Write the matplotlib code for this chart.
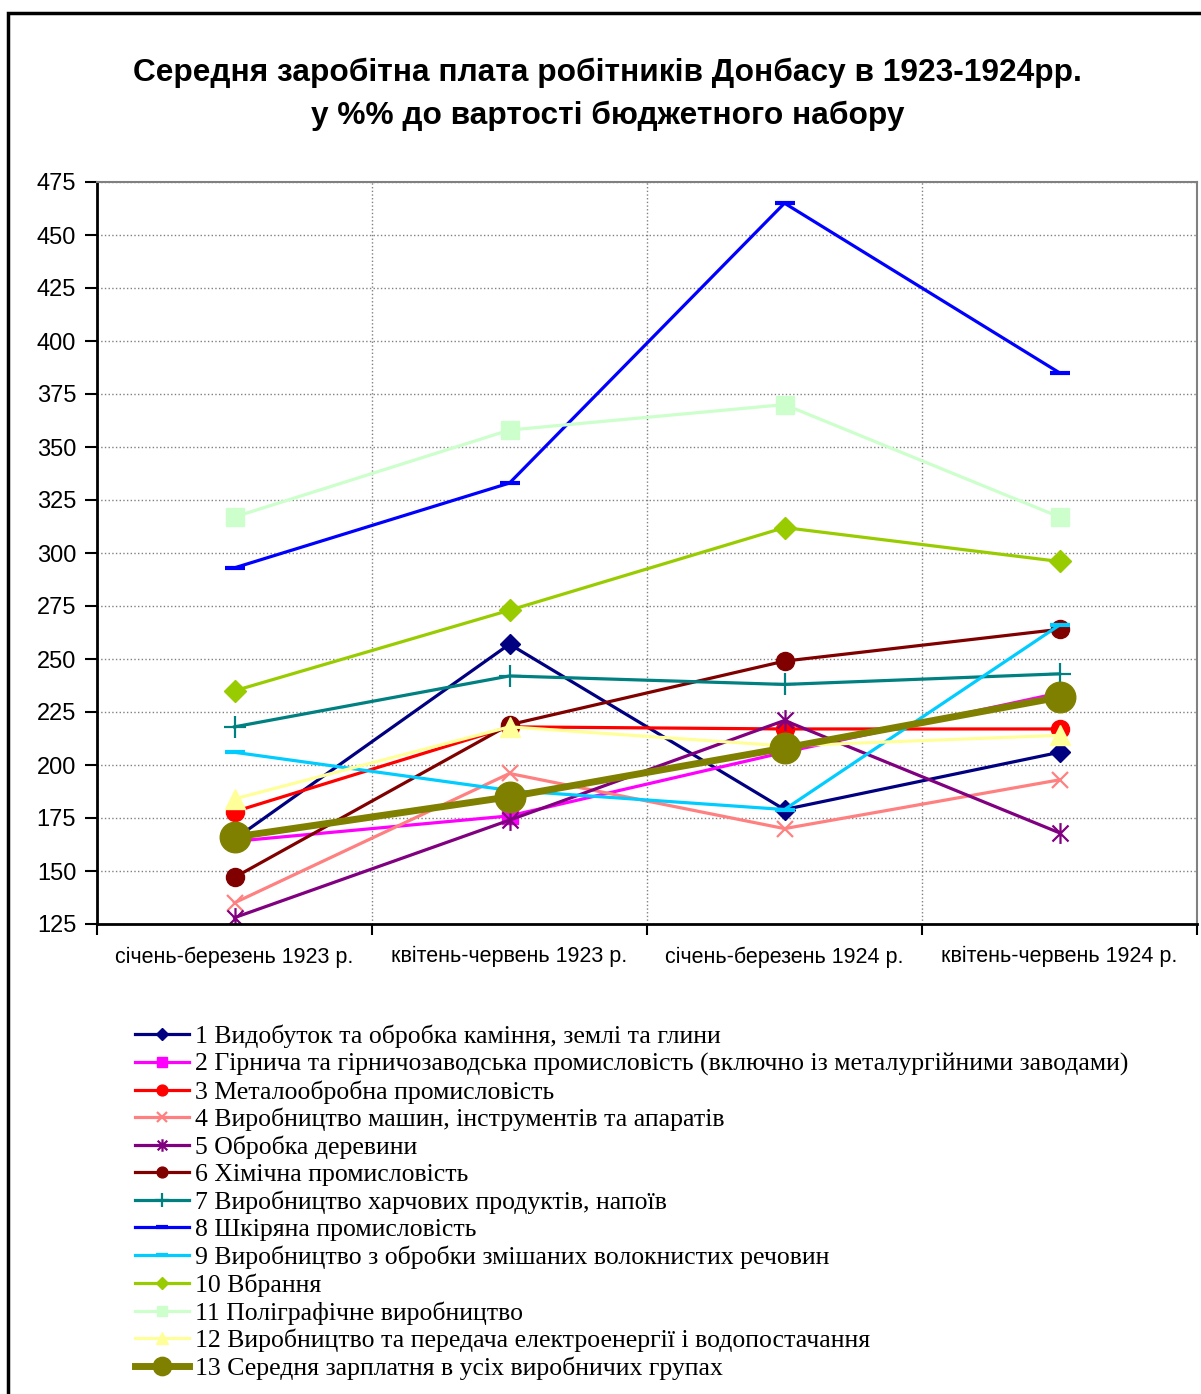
import numpy as np
import matplotlib.pyplot as plt
from matplotlib.path import Path

periods = ['січень-березень 1923 р.', 'квітень-червень 1923 р.',
           'січень-березень 1924 р.', 'квітень-червень 1924 р.']

# values, % of budget set cost
kaminnia = [165, 257, 179, 206]
girnycha = [164, 176, 206, 234]
metaloobrobna = [178, 218, 217, 217]
mashyny = [135, 196, 170, 193]
derevyna = [128, 174, 221, 168]
khimichna = [147, 219, 249, 264]
kharchovi = [218, 242, 238, 243]
shkiriana = [293, 333, 465, 385]
volokna = [206, 188, 179, 266]
vbrannia = [235, 273, 312, 296]
poligrafia = [317, 358, 370, 317]
elektro = [184, 218, 209, 214]
seredna = [166, 185, 208, 232]

labels = [
    '1 Видобуток та обробка каміння, землі та глини',
    '2 Гірнича та гірничозаводська промисловість (включно із металургійними заводами)',
    '3 Металообробна промисловість',
    '4 Виробництво машин, інструментів та апаратів',
    '5 Обробка деревини',
    '6 Хімічна промисловість',
    '7 Виробництво харчових продуктів, напоїв',
    '8 Шкіряна промисловість',
    '9 Виробництво з обробки змішаних волокнистих речовин',
    '10 Вбрання',
    '11 Поліграфічне виробництво',
    '12 Виробництво та передача електроенергії і водопостачання',
    '13 Середня зарплатня в усіх виробничих групах',
]

# asterisk marker like the excel one
star = Path([(-1, -1), (1, 1), (-1, 1), (1, -1), (0, -1.3), (0, 1.3)],
            [Path.MOVETO, Path.LINETO, Path.MOVETO, Path.LINETO,
             Path.MOVETO, Path.LINETO])

# (color, marker, markersize, mew, linewidth)
styles = [
    ('#000080', 'D', 10, 1, 2.3),
    ('#FF00FF', 's', 11, 1, 2.3),
    ('#FF0000', 'o', 13, 1, 2.3),
    ('#FF8080', 'x', 11, 1.6, 2.3),
    ('#800080', star, 15, 1.6, 2.3),
    ('#800000', 'o', 13, 1, 2.3),
    ('#008080', '+', 16, 1.6, 2.3),
    ('#0000FF', '_', 14, 3, 2.3),
    ('#00CCFF', '_', 14, 3, 2.3),
    ('#99CC00', 'D', 11, 1, 2.3),
    ('#CCFFCC', 's', 13, 1, 2.3),
    ('#FFFF99', '^', 14, 1, 2.3),
    ('#808000', 'o', 22, 1, 5),
]

all_series = [kaminnia, girnycha, metaloobrobna, mashyny, derevyna, khimichna,
              kharchovi, shkiriana, volokna, vbrannia, poligrafia, elektro,
              seredna]

fig = plt.figure(figsize=(12.01, 13.94), dpi=100)
ax = fig.add_axes([97 / 1201, 1 - 924 / 1394, 1100 / 1201, 742 / 1394])

x = np.arange(len(periods))
for vals, lab, (c, m, ms, mew, lw) in zip(all_series, labels, styles):
    ax.plot(x, vals, color=c, marker=m, markersize=ms, markeredgewidth=mew,
            markerfacecolor=c, markeredgecolor=c, linewidth=lw, label=lab)

ax.set_xlim(-0.5, 3.5)
ax.set_ylim(125, 475)
ax.set_yticks(np.arange(125, 476, 25))
ax.tick_params(axis='y', labelsize=17, length=9, width=1.5, direction='out',
               pad=6)

ax.set_xticks(np.arange(-0.5, 3.6, 1))
ax.set_xticklabels([])
ax.set_xticks(x, minor=True)
ax.set_xticklabels(periods, minor=True, fontsize=15.5)
ax.tick_params(axis='x', which='major', length=8, width=1.5)
ax.tick_params(axis='x', which='minor', length=0, pad=16)

ax.grid(True, axis='y', color='#808080', linestyle=':', linewidth=1)
ax.grid(True, axis='x', which='major', color='#808080', linestyle=':',
        linewidth=1)

for s in ['left', 'bottom']:
    ax.spines[s].set_linewidth(2)
    ax.spines[s].set_color('black')
for s in ['top', 'right']:
    ax.spines[s].set_linewidth(1.5)
    ax.spines[s].set_color('#808080')

fig.text(0.506, 1 - 73 / 1394, 'Середня заробітна плата робітників Донбасу в 1923-1924рр.',
         ha='center', va='center', fontsize=22.8, fontweight='bold',
         family='Liberation Sans')
fig.text(0.506, 1 - 116 / 1394, 'у %% до вартості бюджетного набору',
         ha='center', va='center', fontsize=22.8, fontweight='bold',
         family='Liberation Sans')

for t in ax.get_yticklabels() + ax.get_xticklabels(minor=True):
    t.set_family('Liberation Sans')

fig.legend(loc='upper left', bbox_to_anchor=(122 / 1201, 1 - 1012 / 1394),
           frameon=False, borderpad=0, labelspacing=0.165, handlelength=2.1,
           handletextpad=0.25, numpoints=1, markerscale=0.6,
           prop={'family': 'Liberation Serif', 'size': 18.5})

# black frame around the chart (cut at right and bottom)
fig.patches.append(plt.Rectangle((8 / 1201, -0.1), 2, 1.1 - 13 / 1394,
                                 transform=fig.transFigure, fill=False,
                                 edgecolor='black', linewidth=2.5))

plt.savefig('out.png', dpi=100)
plt.close()
